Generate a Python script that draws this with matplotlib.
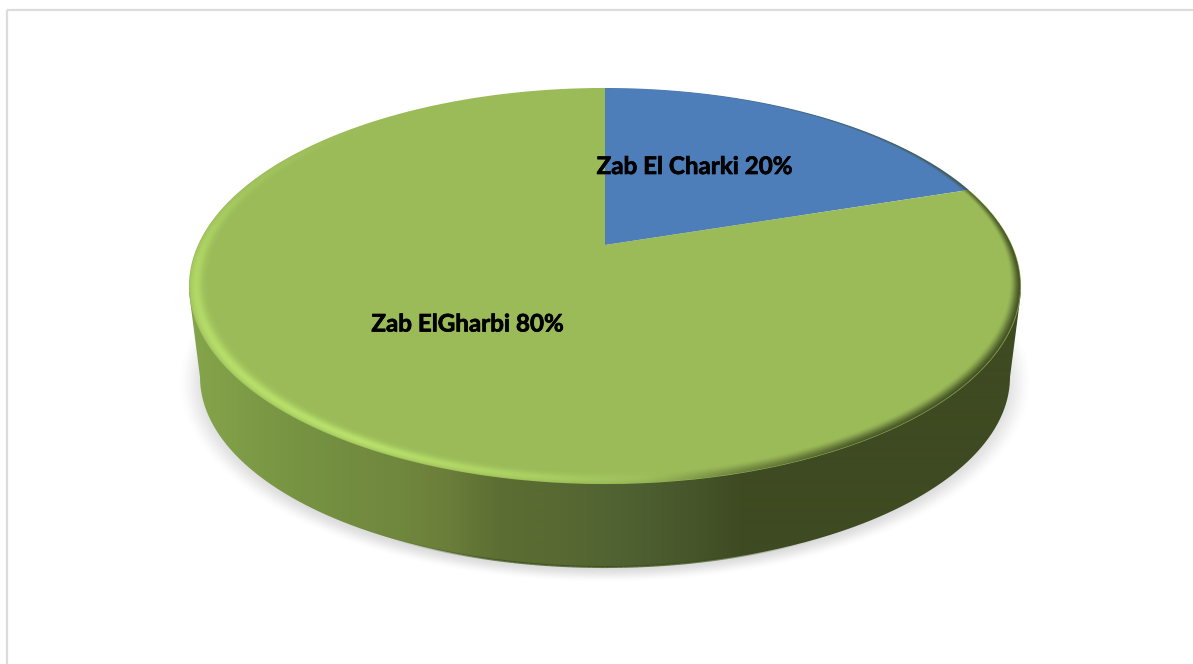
import numpy as np
import matplotlib
matplotlib.use("Agg")
import matplotlib.pyplot as plt
import matplotlib.patheffects as pe
from matplotlib.collections import LineCollection
from matplotlib.path import Path
from matplotlib.patches import PathPatch, Rectangle
from matplotlib.transforms import Transform

categories = ["Zab El Charki", "Zab ElGharbi"]
values = [20, 80]
slice_colors = ["#4E7EBA", "#9BBB59"]
label_pos = [(694.5, 166.5), (467.5, 324)]

W, H = 1193, 664
CX, APEX_Y = 605.0, 245.0
PA, PC, PD = -138.8, 0.2071, 407.0


class Perspective(Transform):
    input_dims = output_dims = 2
    is_affine = False
    has_inverse = False

    def transform_non_affine(self, pts):
        pts = np.asarray(pts, float)
        w = 1 + PC * pts[:, 1]
        return np.column_stack((CX + PD * pts[:, 0] / w, (APEX_Y + PA * pts[:, 1]) / w))


def smooth(a, b, x):
    t = np.clip((x - a) / (b - a), 0, 1)
    return t * t * (3 - 2 * t)


fig = plt.figure(figsize=(W / 100, H / 100), dpi=100, facecolor="white")
ax = fig.add_axes([0, 0, 1, 1])
wedges, _ = ax.pie(values, colors=slice_colors, startangle=90, counterclock=False)
ax.set_aspect("auto")

X, Y = np.meshgrid(np.arange(W) + 0.5, np.arange(H) + 0.5)
ext = (0, W, H, 0)

# chart frame (only left and top stay inside the picture)
ax.add_patch(Rectangle((7, 10), 1400, 900, fc="none", ec="#DCDCDC", lw=1.6, zorder=0))

# soft shadow on the floor
e = np.hypot((X - CX) / 428.0, (Y - 382.0) / 201.0)
shadow = np.zeros((H, W, 4))
shadow[..., :3] = 0.35
shadow[..., 3] = 0.22 * (1 - smooth(0.92, 1.0, e))
ax.imshow(shadow, extent=ext, aspect="auto", zorder=0.5, interpolation="bilinear")

# side wall with horizontal gradient
BX, BY, BRX, BRY = CX, 377.0, 405.0, 190.0
t = np.radians(np.linspace(180, 0, 240))
bx = BX + BRX * np.cos(t)
by = BY + BRY * np.sin(t)
wall = Path(np.vstack(([(189, 292)], np.column_stack((bx, by)), [(1021, 292), (605, 292), (189, 292)])))
wall_x = [189, 300, 400, 450, 500, 560, 620, 680, 710, 745, 1021]
wall_r = [133, 118, 112, 107, 92, 88, 80, 72, 68, 62, 62]
wall_g = [165, 147, 135, 125, 110, 105, 98, 88, 82, 74, 74]
wall_b = [75, 66, 62, 58, 50, 50, 50, 44, 40, 33, 33]
xs = np.arange(W) + 0.5
grad = np.stack([np.interp(xs, wall_x, c) for c in (wall_r, wall_g, wall_b)], axis=-1)[None] / 255
im = ax.imshow(grad, extent=ext, aspect="auto", zorder=1, interpolation="bilinear")
im.set_clip_path(PathPatch(wall, transform=ax.transData))

# dark line along the foot of the wall, fading at both ends
pts = np.column_stack((bx, by))
segs = np.stack((pts[:-1], pts[1:]), axis=1)
mid = segs[:, :, 0].mean(axis=1)
seg_alpha = 0.75 * smooth(380, 520, mid) * (1 - smooth(680, 830, mid))
seg_rgba = np.column_stack((np.tile([0.22, 0.31, 0.09], (len(mid), 1)), seg_alpha))
ax.add_collection(LineCollection(segs, colors=seg_rgba, linewidths=1.5, zorder=1.5))

# top face: the pie slices under a perspective projection
proj = Perspective()
for w in wedges:
    w._path = Path.wedge(w.theta1, w.theta2, n=72)
    w.set_transform(proj + ax.transData)
    w.set_zorder(2)
    w.set_edgecolor("none")

# bevel along the rim of the top face
v = (APEX_Y - Y) / (PC * Y - PA)
u = (X - CX) * (1 + PC * v) / PD
r = np.hypot(u, v)
phi = np.degrees(np.arctan2(v, u)) % 360
phis = (phi + 180) % 360 - 180
inside = np.clip((1 - r) / 0.003, 0, 1)

bright_amt = np.interp(phi, [130, 160, 185, 210, 240, 262, 282], [0, 0.25, 0.7, 0.9, 1, 0.55, 0])
bright = bright_amt * np.exp(-((1 - r - 0.016) / 0.015) ** 2)
dark_amt = np.interp(phis, [-100, -85, -75, -60, -40, 0, 30, 60, 75, 95], [0, 0.1, 0.5, 0.9, 1, 1, 0.7, 0.4, 0.2, 0])
inner = np.interp(phis, [-60, 0, 60, 80], [0.962, 0.975, 0.988, 0.995])
dark = dark_amt * smooth(inner, 1.0, r)

a_b = np.clip(bright * 0.85, 0, 1)
a_d = np.clip(dark * 0.95, 0, 1)
alpha = 1 - (1 - a_b) * (1 - a_d)
safe = np.maximum(alpha, 1e-6)
bc = np.array([190, 232, 110]) / 255
dc = np.array([62, 74, 33]) / 255
bev = np.zeros((H, W, 4))
for k in range(3):
    bev[..., k] = (bc[k] * a_b + dc[k] * a_d * (1 - a_b)) / safe
bev[..., 3] = alpha * inside
ax.imshow(bev, extent=ext, aspect="auto", zorder=3, interpolation="bilinear")

# data labels
for cat, val, (lx, ly) in zip(categories, values, label_pos):
    ax.text(lx, ly, f"{cat} {val}%", ha="center", va="center", fontsize=17.4,
            fontweight="bold", family="Lato", color="black", zorder=4,
            path_effects=[pe.withStroke(linewidth=0.5, foreground="black")])

ax.set_xlim(0, W)
ax.set_ylim(H, 0)
fig.savefig("out.png", dpi=100, facecolor="white")
